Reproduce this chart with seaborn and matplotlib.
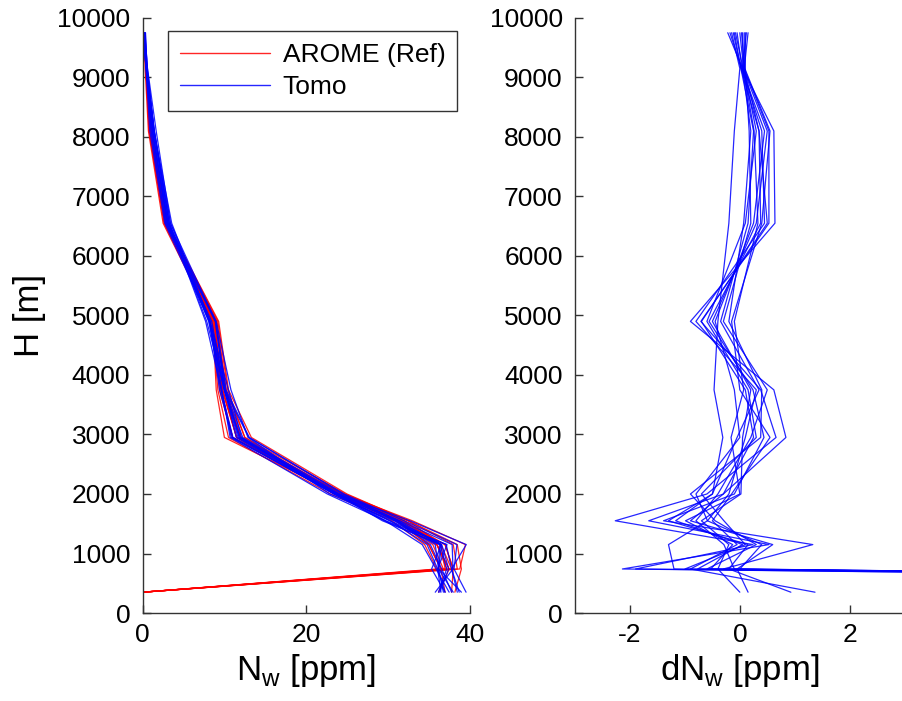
import numpy as np
import pandas as pd
import matplotlib
matplotlib.use('Agg')
import matplotlib.pyplot as plt
import seaborn as sns

# ── Data ───────────────────────────────────────────────────────────────────────
# heights of the profile levels [m]
heights = [350, 740, 1150, 1550, 2000, 2950, 3750, 4900, 6550, 8100, 9150, 9750]

# AROME reference profiles N_w [ppm], one row per profile
arome = [
    [0.0, 37.5, 36.0, 31.0, 24.0, 10.0, 9.0, 8.6, 2.6, 0.8, 0.4, 0.2],
    [0.0, 38.0, 37.0, 32.0, 24.5, 11.0, 9.6, 8.8, 2.7, 0.9, 0.4, 0.2],
    [0.0, 36.5, 35.0, 31.0, 23.5, 11.5, 9.8, 8.4, 2.9, 1.0, 0.5, 0.1],
    [0.0, 37.0, 36.5, 32.5, 25.0, 13.3, 10.5, 9.3, 3.0, 1.1, 0.5, 0.2],
    [0.0, 38.5, 38.0, 32.5, 24.0, 12.0, 10.0, 9.0, 2.8, 0.9, 0.4, 0.2],
    [0.0, 36.0, 34.5, 30.5, 23.0, 10.5, 9.2, 8.5, 2.5, 0.7, 0.3, 0.1],
    [0.0, 37.2, 36.0, 31.5, 24.0, 12.0, 10.2, 9.0, 3.1, 1.0, 0.5, 0.2],
    [0.0, 38.8, 39.5, 33.0, 24.5, 11.5, 9.8, 8.8, 2.9, 0.9, 0.4, 0.2],
    [0.0, 37.8, 36.5, 31.8, 24.2, 11.0, 9.5, 8.7, 2.7, 0.8, 0.4, 0.2],
    [0.0, 36.8, 35.5, 31.2, 23.8, 12.5, 10.4, 9.2, 3.0, 1.0, 0.5, 0.2],
    [37.0, 36.5, 35.0, 31.0, 23.5, 11.0, 9.4, 8.6, 2.8, 0.9, 0.4, 0.2],
    [36.2, 37.5, 36.0, 32.0, 24.5, 12.0, 10.0, 9.0, 2.9, 1.0, 0.5, 0.2],
    [37.8, 38.0, 37.0, 31.5, 24.0, 11.5, 9.7, 8.8, 2.7, 0.8, 0.4, 0.1],
    [38.2, 39.0, 38.5, 32.5, 24.8, 12.5, 10.2, 9.1, 3.0, 1.1, 0.5, 0.2],
]

# tomography minus reference dN_w [ppm], same profile order
dnw = [
    [37.0, -2.14, 0.53, -1.66, -0.30, 0.84, 0.62, -0.90, 0.64, 0.62, 0.05, -0.22],
    [36.5, -1.90, 0.24, -2.27, -0.60, 0.66, 0.38, -0.71, 0.53, 0.53, 0.08, 0.15],
    [38.0, -0.30, 1.33, -1.39, -0.10, 0.44, 0.24, -0.56, 0.38, 0.35, 0.02, -0.10],
    [39.0, -0.77, 0.05, -1.17, -0.50, -0.31, -0.47, -0.40, -0.20, -0.10, 0.00, -0.15],
    [35.8, -0.53, -0.13, -0.99, 0.00, -0.16, 0.07, -0.10, 0.33, 0.26, 0.06, 0.05],
    [37.5, -0.10, -0.29, -0.80, -0.40, 0.20, 0.50, -0.30, 0.20, 0.17, 0.10, 0.10],
    [36.2, 0.00, 0.40, -0.59, -0.20, 0.10, 0.30, -0.80, 0.45, 0.40, 0.04, -0.05],
    [38.5, -1.00, 0.10, -0.29, -0.70, 0.30, 0.15, -0.60, 0.10, 0.30, 0.07, 0.00],
    [37.8, -1.20, -1.30, -0.59, -0.80, 0.00, -0.10, -0.45, 0.25, 0.45, 0.03, -0.18],
    [36.8, -0.60, 0.30, -0.45, -0.90, 0.38, 0.40, -0.20, 0.07, 0.20, 0.05, 0.12],
    [0.00, -0.40, -0.20, -0.70, 0.02, 0.05, 0.20, -0.50, 0.30, 0.50, 0.06, -0.08],
    [0.15, -0.05, 0.60, -0.90, -0.30, 0.25, 0.10, -0.70, 0.50, 0.35, 0.08, 0.08],
    [0.93, -0.20, 0.15, -1.30, -0.50, -0.05, 0.35, -0.35, 0.15, 0.25, 0.02, -0.12],
    [1.37, -0.90, -0.05, -0.50, -0.15, 0.55, 0.00, -0.15, 0.40, 0.55, 0.09, 0.03],
]

series_names = ['AROME (Ref)', 'Tomo']
y_ticks = list(range(0, 10001, 1000))
left_xticks = [0, 20, 40]
right_xticks = [-2, 0, 2]

# ── Long-format table ──────────────────────────────────────────────────────────
rows = []
for i, (a, d) in enumerate(zip(arome, dnw)):
    for h, av, dv in zip(heights, a, d):
        rows.append({'profile': i, 'H': h, 'source': series_names[0], 'N': av, 'dN': dv})
        rows.append({'profile': i, 'H': h, 'source': series_names[1], 'N': av + dv, 'dN': dv})
df = pd.DataFrame(rows)

# ── Style ──────────────────────────────────────────────────────────────────────
sns.set_theme(style='ticks')
plt.rcParams['font.family'] = ['Liberation Sans Narrow', 'Liberation Sans', 'DejaVu Sans']
plt.rcParams['mathtext.fontset'] = 'custom'
plt.rcParams['mathtext.rm'] = 'Liberation Sans'
plt.rcParams['axes.unicode_minus'] = False
plt.rcParams['text.color'] = 'black'
plt.rcParams['axes.labelcolor'] = 'black'
plt.rcParams['axes.edgecolor'] = '#333333'
plt.rcParams['xtick.color'] = '#333333'
plt.rcParams['ytick.color'] = '#333333'
plt.rcParams['xtick.labelcolor'] = 'black'
plt.rcParams['ytick.labelcolor'] = 'black'

fig = plt.figure(figsize=(9.03, 7.01), dpi=100)
ax1 = fig.add_axes([0.158, 0.1255, 0.362, 0.849])
ax2 = fig.add_axes([0.637, 0.1255, 0.3646, 0.849])

# ── Left: profiles ─────────────────────────────────────────────────────────────
sns.lineplot(data=df, x='N', y='H', hue='source', units='profile', estimator=None,
             sort=False, palette={'AROME (Ref)': '#ff0000', 'Tomo': '#0000ff'},
             hue_order=series_names, linewidth=0.9, alpha=0.85, ax=ax1)
ax1.set_xlim(0, 40)
ax1.set_xticks(left_xticks)
ax1.set_xlabel('N$_\\mathregular{w}$ [ppm]', fontsize=25, labelpad=4)
ax1.set_ylabel('H [m]', fontsize=25, labelpad=8)
leg = ax1.legend(loc='upper right', bbox_to_anchor=(0.963, 0.978), borderaxespad=0,
                 fontsize=19, handlelength=3.4, fancybox=False, framealpha=1,
                 edgecolor='#333333', borderpad=0.45, labelspacing=0.3, handletextpad=0.5)
for line in leg.get_lines():
    line.set_linewidth(1.0)
for txt in leg.get_texts():
    txt.set_color('black')

# ── Right: differences ─────────────────────────────────────────────────────────
sns.lineplot(data=df[df['source'] == 'Tomo'], x='dN', y='H', units='profile',
             estimator=None, sort=False, color='#0000ff', linewidth=0.9, alpha=0.85, ax=ax2)
ax2.set_xlim(-3, 3)
ax2.set_xticks(right_xticks)
ax2.set_xlabel('dN$_\\mathregular{w}$ [ppm]', fontsize=25, labelpad=4)
ax2.set_ylabel('')

for ax in (ax1, ax2):
    ax.set_ylim(0, 10000)
    ax.set_yticks(y_ticks)
    ax.tick_params(direction='in', length=6, width=1, labelsize=19, pad=7)
    ax.tick_params(axis='y', pad=9)
    for side in ('top', 'right'):
        ax.spines[side].set_visible(False)
    ax.spines['left'].set_linewidth(1)
    ax.spines['bottom'].set_linewidth(1)

fig.savefig('out.png', dpi=100)
